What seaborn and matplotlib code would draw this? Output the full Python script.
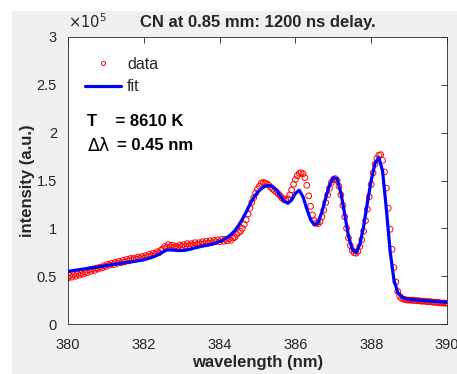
import numpy as np
import matplotlib
matplotlib.use("Agg")
import matplotlib.pyplot as plt
from matplotlib.patches import Rectangle
from matplotlib.lines import Line2D
import seaborn as sns

# ---- data (intensity in units of 1e5) ----
data_start, data_step = 380.0, 0.05
data_intensity = [
    0.480, 0.505, 0.490, 0.515, 0.500, 0.525, 0.510, 0.530, 0.520, 0.545,
    0.535, 0.565, 0.550, 0.575, 0.560, 0.585, 0.575, 0.595, 0.585, 0.610,
    0.600, 0.625, 0.615, 0.635, 0.620, 0.645, 0.635, 0.655, 0.640, 0.665,
    0.650, 0.675, 0.660, 0.685, 0.670, 0.690, 0.680, 0.700, 0.685, 0.705,
    0.690, 0.715, 0.705, 0.730, 0.715, 0.740, 0.730, 0.755, 0.745, 0.770,
    0.785, 0.810, 0.800, 0.830, 0.810, 0.825, 0.800, 0.815, 0.800, 0.825,
    0.810, 0.830, 0.815, 0.840, 0.820, 0.840, 0.825, 0.850, 0.830, 0.850,
    0.835, 0.860, 0.840, 0.865, 0.845, 0.870, 0.850, 0.875, 0.860, 0.880,
    0.860, 0.885, 0.865, 0.885, 0.870, 0.890, 0.875, 0.900, 0.905, 0.935,
    0.955, 0.970, 1.000, 1.040, 1.090, 1.150, 1.210, 1.270, 1.320, 1.370,
    1.410, 1.440, 1.470, 1.480, 1.475, 1.465, 1.450, 1.430, 1.410, 1.395,
    1.380, 1.360, 1.340, 1.315, 1.300, 1.295, 1.310, 1.350, 1.400, 1.460,
    1.510, 1.550, 1.575, 1.580, 1.570, 1.530, 1.450, 1.340, 1.230, 1.140,
    1.080, 1.055, 1.050, 1.070, 1.120, 1.190, 1.270, 1.350, 1.420, 1.480,
    1.510, 1.520, 1.500, 1.440, 1.350, 1.240, 1.120, 1.000, 0.900, 0.820,
    0.770, 0.745, 0.740, 0.760, 0.810, 0.880, 0.970, 1.080, 1.200, 1.330,
    1.460, 1.580, 1.670, 1.730, 1.765, 1.770, 1.710, 1.590, 1.420, 1.210,
    0.990, 0.780, 0.590, 0.440, 0.340, 0.290, 0.270, 0.260, 0.255, 0.250,
    0.250, 0.248, 0.250, 0.245, 0.243, 0.245, 0.240, 0.238, 0.240, 0.235,
    0.233, 0.235, 0.230, 0.228, 0.225, 0.228, 0.222, 0.220, 0.218, 0.220,
    0.215,
]

fit_start, fit_step = 380.0, 0.1
fit_intensity = [
    0.550, 0.556, 0.562, 0.568, 0.574, 0.580, 0.586, 0.592, 0.598, 0.604,
    0.610, 0.616, 0.622, 0.628, 0.634, 0.640, 0.646, 0.652, 0.658, 0.664,
    0.672, 0.682, 0.695, 0.710, 0.728, 0.752, 0.772, 0.775, 0.772, 0.768,
    0.768, 0.772, 0.780, 0.790, 0.800, 0.810, 0.818, 0.826, 0.836, 0.848,
    0.862, 0.880, 0.905, 0.935, 0.975, 1.030, 1.095, 1.170, 1.250, 1.320,
    1.375, 1.415, 1.440, 1.447, 1.435, 1.400, 1.340, 1.285, 1.262, 1.295,
    1.365, 1.398, 1.330, 1.205, 1.090, 1.035, 1.060, 1.170, 1.320, 1.450,
    1.530, 1.520, 1.370, 1.150, 0.920, 0.780, 0.745, 0.830, 1.020, 1.270,
    1.500, 1.680, 1.740, 1.600, 1.200, 0.760, 0.460, 0.330, 0.285, 0.265,
    0.258, 0.254, 0.250, 0.247, 0.244, 0.241, 0.238, 0.235, 0.232, 0.229,
    0.226,
]

title = "CN at 0.85 mm: 1200 ns delay."
xlabel = "wavelength (nm)"
ylabel = "intensity (a.u.)"
xticks = [380, 382, 384, 386, 388, 390]
yticks = [0, 0.5, 1, 1.5, 2, 2.5, 3]
ytick_labels = ["0", "0.5", "1", "1.5", "2", "2.5", "3"]
legend_labels = ["data", "fit"]
annot_T = "T    = 8610 K"
annot_dl_sym = r"$\mathrm{\Delta\lambda}$"
annot_dl_val = "= 0.45 nm"

data_wl = np.round(data_start + data_step * np.arange(len(data_intensity)), 3)
fit_wl = np.round(fit_start + fit_step * np.arange(len(fit_intensity)), 3)

# ---- style ----
sns.set_style("white")
plt.rcParams['font.family'] = ['Liberation Sans', 'DejaVu Sans']
plt.rcParams['mathtext.fontset'] = 'dejavusans'
txtc = "#262626"
W, H = 457, 374

fig = plt.figure(figsize=(W / 100, H / 100), dpi=100, facecolor="white")
# MATLAB-like gray figure panel (screenshot has thin white margin top/left)
bg = Rectangle((12 / W, 0), 1 - 12 / W, 1 - 11 / H,
               transform=fig.transFigure, facecolor="#F0F0F0",
               edgecolor="none", zorder=-10)
fig.add_artist(bg)

ax = fig.add_axes([68 / W, (H - 324) / H, 379 / W, 287 / H])
ax.set_zorder(1)
ax.set_facecolor("white")

sns.scatterplot(x=data_wl, y=data_intensity, ax=ax, marker="o", s=17,
                facecolor="none", edgecolor=(1, 0, 0), linewidth=0.7,
                legend=False, zorder=2)
sns.lineplot(x=fit_wl, y=fit_intensity, ax=ax, color=(0, 0, 1), linewidth=2.3,
             legend=False, zorder=3)

ax.set_xlim(380, 390)
ax.set_ylim(0, 3)
ax.set_xticks(xticks)
ax.set_xticklabels([str(t) for t in xticks])
ax.set_yticks(yticks)
ax.set_yticklabels(ytick_labels)
ax.tick_params(direction="in", length=4, width=0.6, colors=txtc, labelsize=10.5,
               top=True, right=True)
ax.tick_params(axis="x", pad=10)
ax.tick_params(axis="y", pad=8)
for s in ax.spines.values():
    s.set_color(txtc)
    s.set_linewidth(0.6)

ax.set_xlabel(xlabel, fontsize=12, fontweight="bold", color=txtc, labelpad=2)
ax.set_ylabel(ylabel, fontsize=12, fontweight="bold", color=txtc, labelpad=1)
ax.set_title(title, fontsize=12, fontweight="bold", color=txtc, pad=7)

ax.text(0.0, 1.02, r"$\times10^5$", transform=ax.transAxes, fontsize=10.5,
        color=txtc, ha="left", va="bottom")

handles = [
    Line2D([], [], marker="o", linestyle="none", markersize=3,
           markerfacecolor="none", markeredgecolor=(1, 0, 0), markeredgewidth=0.7),
    Line2D([], [], color=(0, 0, 1), linewidth=2.3),
]
leg = ax.legend(handles, legend_labels, loc="upper left", frameon=False,
                fontsize=11.5, bbox_to_anchor=(0.01, 0.975), handlelength=2.3,
                handletextpad=0.35, labelspacing=0.45, borderaxespad=0.4)
for t in leg.get_texts():
    t.set_color(txtc)

ax.text(0.05, (324 - 122) / 287, annot_T, transform=ax.transAxes, fontsize=12,
        fontweight="bold", color="black", va="center", ha="left")
ax.text(0.05, (324 - 145) / 287, annot_dl_sym, transform=ax.transAxes, fontsize=12.5,
        color="black", va="center", ha="left")
ax.text(0.05 + 30 / 379, (324 - 145) / 287, annot_dl_val, transform=ax.transAxes,
        fontsize=12, fontweight="bold", color="black", va="center", ha="left")

fig.savefig("out.png", dpi=100, facecolor=fig.get_facecolor())
